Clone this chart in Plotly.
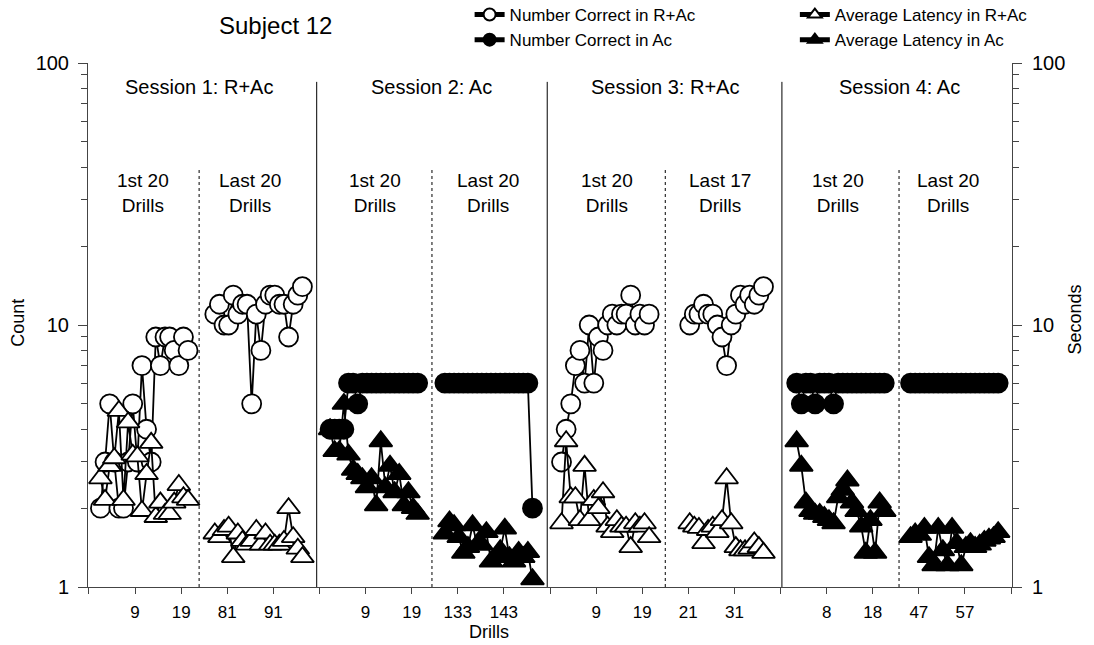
import plotly.graph_objects as go

# ---------------- data ----------------
# Session 1 (R+Ac)
s1_first_correct = [2, 3, 5, 3, 2, 2, 3, 5, 3, 7, 4, 3, 9, 7, 9, 9, 8, 7, 9, 8]
s1_first_latency = [2.6, 2.15, 2.9, 3.1, 4.7, 2.15, 4.25, 3.2, 3.15, 1.95,
                    2.7, 3.55, 1.85, 2.1, 1.9, 1.9, 2.1, 2.45, 2.2, 2.15]
s1_last_correct = [11, 12, 10, 10, 13, 11, 12, 12, 5, 11, 8, 12, 13, 13, 12, 12, 9, 12, 13, 14]
s1_last_latency = [1.6, 1.55, 1.65, 1.7, 1.3, 1.6, 1.5, 1.45, 1.5, 1.65,
                   1.45, 1.6, 1.45, 1.45, 1.45, 1.5, 2.0, 1.55, 1.4, 1.3]

# Session 2 (Ac)
s2_first_correct = [4, 4, 4, 4, 6, 6, 5, 6, 6, 6, 6, 6, 6, 6, 6, 6, 6, 6, 6, 6]
s2_first_latency = [4.0, 3.3, 3.3, 5.0, 3.2, 2.8, 2.7, 2.6, 2.4, 2.6,
                    2.05, 3.6, 2.4, 2.9, 2.3, 2.7, 2.05, 2.3, 2.0, 1.9]
s2_last_correct = [6, 6, 6, 6, 6, 6, 6, 6, 6, 6, 6, 6, 6, 6, 6, 6, 6, 6, 6, 2]
s2_last_latency = [1.6, 1.78, 1.72, 1.55, 1.35, 1.42, 1.72, 1.45, 1.45, 1.62,
                   1.25, 1.3, 1.38, 1.67, 1.3, 1.25, 1.36, 1.3, 1.36, 1.07]

# Session 3 (R+Ac)
s3_first_correct = [3, 4, 5, 7, 8, 6, 10, 6, 9, 8, 10, 11, 10, 11, 11, 13, 10, 11, 10, 11]
s3_first_latency = [1.75, 3.6, 2.2, 2.2, 1.8, 2.9, 1.8, 2.15, 2.0, 2.3,
                    1.7, 1.62, 1.8, 1.7, 1.7, 1.42, 1.75, 1.7, 1.75, 1.55]
s3_last_correct = [10, 11, 11, 12, 11, 11, 10, 9, 7, 10, 11, 13, 12, 13, 12, 13, 14]
s3_last_latency = [1.75, 1.7, 1.68, 1.47, 1.65, 1.7, 1.62, 1.8, 2.6, 1.75,
                   1.42, 1.38, 1.38, 1.4, 1.48, 1.42, 1.35]

# Session 4 (Ac)
s4_first_correct = [6, 5, 6, 6, 5, 6, 6, 6, 5, 6, 6, 6, 6, 6, 6, 6, 6, 6, 6, 6]
s4_first_latency = [3.6, 2.9, 2.1, 1.95, 1.9, 1.9, 1.85, 1.8, 1.75, 2.2,
                    2.35, 2.55, 2.1, 1.95, 1.7, 1.35, 1.8, 1.35, 2.1, 1.95]
s4_last_correct = [6, 6, 6, 6, 6, 6, 6, 6, 6, 6, 6, 6, 6, 6, 6, 6, 6, 6, 6, 6]
s4_last_latency = [1.55, 1.6, 1.58, 1.68, 1.3, 1.21, 1.68, 1.38, 1.21, 1.68,
                   1.47, 1.21, 1.42, 1.47, 1.42, 1.45, 1.5, 1.53, 1.55, 1.62]

session_titles = ["Session 1: R+Ac", "Session 2: Ac", "Session 3: R+Ac", "Session 4: Ac"]
block_titles = ["1st 20<br>Drills", "Last 20<br>Drills", "1st 20<br>Drills", "Last 20<br>Drills",
                "1st 20<br>Drills", "Last 17<br>Drills", "1st 20<br>Drills", "Last 20<br>Drills"]
x_tick_labels = ["", "9", "19", "81", "91",
                 "", "9", "19", "133", "143",
                 "", "9", "19", "21", "31",
                 "", "8", "18", "47", "57", ""]

# ---------------- layout of the drill axis ----------------
SPAN = 50                      # slots reserved for each session
# slot of the first drill of each block within its session
block_start = {
    (1, "first"): 1.5, (1, "last"): 26.3,
    (2, "first"): 1.3, (2, "last"): 26.2,
    (3, "first"): 1.5, (3, "last"): 29.3,
    (4, "first"): 2.5, (4, "last"): 27.2,
}
session_line = [48.4, 98.4, 149.3]          # solid separators between sessions
block_line = [22.9, 73.4, 124.0, 174.7]     # dotted separators inside sessions
block_label_x = [10.7, 33.9, 61.1, 85.6, 111.4, 135.9, 161.5, 185.4]

blocks = {
    (1, "first"): (s1_first_correct, s1_first_latency),
    (1, "last"): (s1_last_correct, s1_last_latency),
    (2, "first"): (s2_first_correct, s2_first_latency),
    (2, "last"): (s2_last_correct, s2_last_latency),
    (3, "first"): (s3_first_correct, s3_first_latency),
    (3, "last"): (s3_last_correct, s3_last_latency),
    (4, "first"): (s4_first_correct, s4_first_latency),
    (4, "last"): (s4_last_correct, s4_last_latency),
}


def series(sessions, which):
    """Join the blocks of the given sessions into one x/y pair, broken between blocks."""
    xs, ys = [], []
    for s in sessions:
        for part in ("first", "last"):
            vals = blocks[(s, part)][which]
            x0 = (s - 1) * SPAN + block_start[(s, part)]
            xs += [x0 + i for i in range(len(vals))] + [None]
            ys += list(vals) + [None]
    return xs, ys


FONT = "Arial, Liberation Sans, sans-serif"
LW = 1.8

fig = go.Figure()

specs = [
    ("Number Correct in R+Ac", [1, 3], 0, "circle", "white", "y", "legend", 19),
    ("Number Correct in Ac", [2, 4], 0, "circle", "black", "y", "legend", 19),
    ("Average Latency in R+Ac", [1, 3], 1, "triangle-up", "white", "y2", "legend2", 20),
    ("Average Latency in Ac", [2, 4], 1, "triangle-up", "black", "y2", "legend2", 20),
]
for name, sess, which, sym, fill, yax, leg, size in specs:
    xs, ys = series(sess, which)
    fig.add_trace(go.Scatter(
        x=xs, y=ys, name=name, mode="lines+markers", yaxis=yax, legend=leg,
        connectgaps=False,
        line=dict(color="black", width=LW),
        marker=dict(symbol=sym, size=size, color=fill, line=dict(color="black", width=LW)),
    ))

tickvals = [-1 + 10 * k for k in range(len(x_tick_labels))]
minor_vals = [m * d for d in (1, 10) for m in range(2, 10)]

yax_common = dict(
    type="log", range=[0, 2], tickvals=[1, 10, 100], ticktext=["1", "10", "100"],
    ticks="outside", ticklen=9, tickwidth=1, tickcolor="#444",
    minor=dict(tickmode="array", tickvals=minor_vals, ticks="outside", ticklen=6,
               tickcolor="#444", tickwidth=1, showgrid=False),
    showline=True, linecolor="#444", linewidth=1, showgrid=False, zeroline=False,
    tickfont=dict(family=FONT, size=20, color="black"),
)

fig.update_layout(
    width=1094, height=645,
    margin=dict(l=88, r=82, t=63, b=58, autoexpand=False),
    paper_bgcolor="white", plot_bgcolor="white",
    font=dict(family=FONT, color="black"),
    showlegend=True,
    xaxis=dict(
        range=[-1.2, 199.2], tickmode="array", tickvals=tickvals, ticktext=x_tick_labels,
        ticks="outside", ticklen=6, tickcolor="#444", showline=True, linecolor="#444",
        showgrid=False, zeroline=False, ticklabelstandoff=4,
        tickfont=dict(family=FONT, size=17, color="black"),
    ),
    yaxis=dict(**yax_common, side="left", ticklabelstandoff=5),
    yaxis2=dict(**yax_common, side="right", overlaying="y", ticklabelstandoff=6),
    legend=dict(x=0.413, y=1.126, xanchor="left", yanchor="top", orientation="v",
                itemsizing="constant", bgcolor="rgba(0,0,0,0)", tracegroupgap=0,
                font=dict(family=FONT, size=17)),
    legend2=dict(x=0.765, y=1.126, xanchor="left", yanchor="top", orientation="v",
                 itemsizing="constant", bgcolor="rgba(0,0,0,0)", tracegroupgap=0,
                 font=dict(family=FONT, size=17)),
)

shapes = []
for xv in session_line:
    shapes.append(dict(type="line", xref="x", yref="paper", x0=xv, x1=xv, y0=0, y1=0.964,
                       line=dict(color="black", width=1), layer="below"))
for xv in block_line:
    shapes.append(dict(type="line", xref="x", yref="paper", x0=xv, x1=xv, y0=0, y1=0.80,
                       line=dict(color="black", width=1, dash="dot"), layer="below"))
fig.update_layout(shapes=shapes)


def label(text, x, y, size, xref="paper", angle=0):
    return dict(text=text, xref=xref, yref="paper", x=x, y=y, xanchor="center",
                yanchor="middle", textangle=angle, showarrow=False,
                font=dict(family=FONT, size=size))


ann = [label("Subject 12", 0.2024, 1.0725, 24)]
for xv, t in zip(block_line, session_titles):
    ann.append(label(t, xv, 0.954, 20, xref="x"))
for xv, t in zip(block_label_x, block_titles):
    ann.append(label(t, xv, 0.752, 19, xref="x"))
ann.append(label("Count", -0.0758, 0.504, 18, angle=-90))
ann.append(label("Seconds", 1.068, 0.51, 18, angle=-90))
ann.append(label("Drills", 0.434, -0.086, 18))
fig.update_layout(annotations=ann)

fig.write_html("out.html")
